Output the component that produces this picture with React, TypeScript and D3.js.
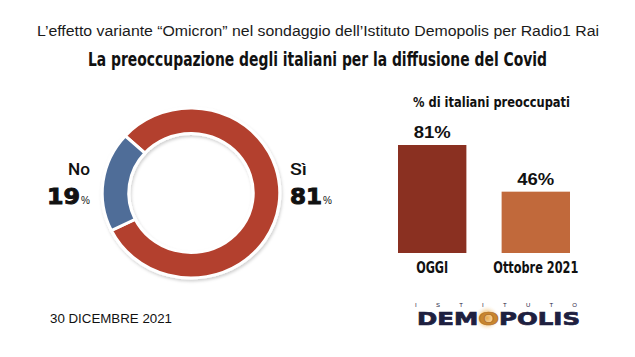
import React from "react";
import * as d3 from "d3";

const donutLabels = ["Sì", "No"];
const donutValues = [81, 19];
const donutColors = ["#B3402D", "#4F6D98"];

const barCategories = ["OGGI", "Ottobre 2021"];
const barValues = [81, 46];
const barColors = ["#8A3021", "#C1693B"];

const W = 635;
const H = 357;

export default function App() {
  // Donut
  const cx = 191, cy = 193;
  const outerR = 85, innerR = 59.5;
  const startDeg = -47.8;
  const pie = d3
    .pie<number>()
    .sort(null)
    .value((d) => d)
    .startAngle((startDeg * Math.PI) / 180)
    .endAngle((startDeg * Math.PI) / 180 + 2 * Math.PI);
  const arcs = pie(donutValues);
  const arcGen = d3.arc<d3.PieArcDatum<number>>().innerRadius(innerR).outerRadius(outerR);

  // Bars
  const x = d3.scaleBand<string>().domain(barCategories).range([398, 570]).paddingInner(0.34).paddingOuter(0);
  const y = d3.scaleLinear().domain([0, 100]).range([253, 253 - 133.33]);

  const narrow = "'Liberation Sans Narrow', 'DejaVu Sans Condensed', 'Roboto Condensed', sans-serif";
  const sans = "'Liberation Sans', Arial, Helvetica, sans-serif";
  const heavy = "'DejaVu Sans', 'Liberation Sans', sans-serif";

  return (
    <svg
      width={W}
      height={H}
      viewBox={`0 0 ${W} ${H}`}
      style={{ position: "absolute", left: 0, top: 0, background: "#fff" }}
    >
      <defs>
        <filter id="shadow" x="-20%" y="-20%" width="140%" height="140%">
          <feDropShadow dx="1" dy="2" stdDeviation="1.5" floodColor="#000" floodOpacity="0.18" />
        </filter>
        <radialGradient id="glow">
          <stop offset="0%" stopColor="#E9A84A" stopOpacity="1" />
          <stop offset="55%" stopColor="#F0C27A" stopOpacity="0.6" />
          <stop offset="100%" stopColor="#FFFFFF" stopOpacity="0" />
        </radialGradient>
      </defs>
      <rect x={0} y={0} width={W} height={H} fill="#fff" />

      {/* Titles */}
      <text x={318} y={36} textAnchor="middle" fontFamily={sans} fontSize={14} fill="#1a1a1a"
        textLength={562} lengthAdjust="spacingAndGlyphs">
        L’effetto variante “Omicron” nel sondaggio dell’Istituto Demopolis per Radio1 Rai
      </text>
      <text x={317.5} y={66} textAnchor="middle" fontFamily={narrow} fontWeight="bold" fontSize={19} fill="#111"
        textLength={459} lengthAdjust="spacingAndGlyphs">
        La preoccupazione degli italiani per la diffusione del Covid
      </text>

      {/* Donut */}
      <g transform={`translate(${cx},${cy}) scale(1.045,1)`} filter="url(#shadow)">
        {arcs.map((a, i) => (
          <path key={i} d={arcGen(a) || ""} fill={donutColors[i]} stroke="#fff" strokeWidth={3} />
        ))}
      </g>

      {/* Donut labels */}
      <text x={68} y={175} fontFamily="Roboto, sans-serif" fontWeight={500} fontSize={16.5} fill="#111"
        textLength={22} lengthAdjust="spacingAndGlyphs">
        {donutLabels[1]}
      </text>
      <text x={47} y={204} fontFamily={heavy} fontWeight="bold" fontSize={22} fill="#111"
        textLength={33} lengthAdjust="spacingAndGlyphs" stroke="#111" strokeWidth={1}>
        {donutValues[1]}
      </text>
      <text x={81} y={204} fontFamily={sans} fontSize={10} fill="#111">%</text>

      <text x={290} y={175} fontFamily="Roboto, sans-serif" fontWeight={500} fontSize={16.5} fill="#111"
        textLength={17} lengthAdjust="spacingAndGlyphs">
        {donutLabels[0]}
      </text>
      <text x={290} y={204} fontFamily={heavy} fontWeight="bold" fontSize={22} fill="#111"
        textLength={32} lengthAdjust="spacingAndGlyphs" stroke="#111" strokeWidth={1}>
        {donutValues[0]}
      </text>
      <text x={323} y={204} fontFamily={sans} fontSize={10} fill="#111">%</text>

      {/* Bar chart */}
      <text x={491.5} y={107} textAnchor="middle" fontFamily={narrow} fontWeight="bold" fontSize={14.5} fill="#111"
        textLength={157} lengthAdjust="spacingAndGlyphs">
        % di italiani preoccupati
      </text>
      {barCategories.map((c, i) => {
        const bx = x(c) as number;
        const bw = x.bandwidth();
        return (
          <g key={c}>
            <rect x={bx} y={y(barValues[i])} width={bw} height={y(0) - y(barValues[i])} fill={barColors[i]} />
            <text x={bx + bw / 2} y={y(barValues[i]) - 7} textAnchor="middle" fontFamily={sans} fontWeight="bold"
              fontSize={16.5} fill="#111" textLength={37} lengthAdjust="spacingAndGlyphs">
              {barValues[i]}%
            </text>
            <text x={bx + bw / 2} y={273} textAnchor="middle" fontFamily={narrow} fontWeight="bold" fontSize={15}
              fill="#111" textLength={i === 0 ? 32 : 85} lengthAdjust="spacingAndGlyphs">
              {c}
            </text>
          </g>
        );
      })}

      {/* Footer */}
      <text x={50} y={323} fontFamily={sans} fontSize={12.5} fill="#111" textLength={122} lengthAdjust="spacingAndGlyphs">
        30 DICEMBRE 2021
      </text>

      {/* Logo */}
      <circle cx={487} cy={318} r={13} fill="url(#glow)" />
      <text x={496} y={307} textAnchor="middle" fontFamily={sans} fontSize={6} fill="#1E2040"
        textLength={162} lengthAdjust="spacing">
        ISTITUTO
      </text>
      <text x={417} y={324.5} fontFamily={heavy} fontWeight="bold" fontSize={17.5} fill="#1E2040"
        textLength={163} lengthAdjust="spacingAndGlyphs" stroke="#1E2040" strokeWidth={0.7}>
        DEM<tspan fill="#C9862E" stroke="#B0702A">O</tspan>POLIS
      </text>
    </svg>
  );
}
